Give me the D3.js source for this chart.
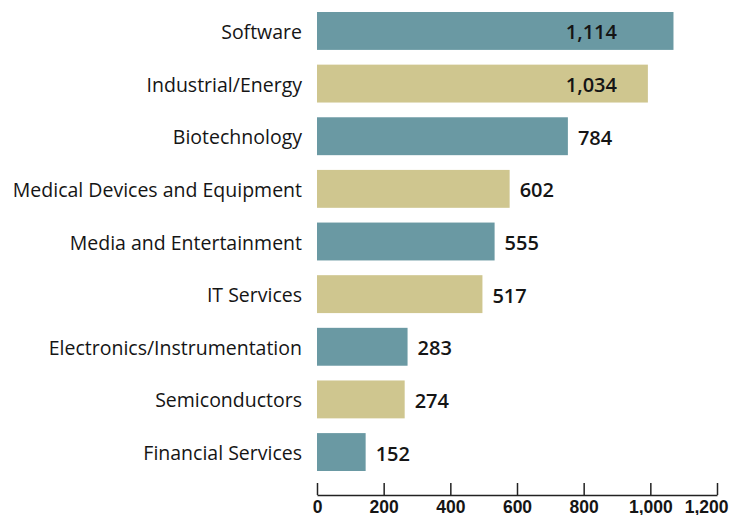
<!DOCTYPE html>
<html lang="en">
<head>
  <meta charset="UTF-8">
  <title>Deals by Industry</title>
  <script src="https://d3js.org/d3.v7.min.js"></script>
  <style>
    body {
      margin: 0;
      background: #fff;
      font-family: "Open Sans", Roboto, Arial, sans-serif;
    }
    svg {
      display: block;
    }
  </style>
</head>
<body>

<div id="chart"></div>

<script>
  // Data
  const categories = [
    "Software",
    "Industrial/Energy",
    "Biotechnology",
    "Medical Devices and Equipment",
    "Media and Entertainment",
    "IT Services",
    "Electronics/Instrumentation",
    "Semiconductors",
    "Financial Services"
  ];
  const values = [1114, 1034, 784, 602, 555, 517, 283, 274, 152];
  const tickValues = [0, 200, 400, 600, 800, 1000, 1200];

  const width = 730, height = 515;
  const colors = ["#6a99a3", "#cfc68f"];

  const svg = d3.select("#chart")
    .append("svg")
    .attr("width", width)
    .attr("height", height);

  // The axis runs 0..1,200, but the bars in the original are drawn a bit short
  const xAxisScale = d3.scaleLinear().domain([0, 1200]).range([317, 717]);
  const xBar = d3.scaleLinear().domain([0, 1250]).range([317, 717]);

  const y = d3.scaleBand()
    .domain(categories)
    .range([12, 471])
    .paddingInner(0.28)
    .paddingOuter(0);

  const data = categories.map((c, i) => ({ name: c, value: values[i], i: i }));

  // Bars
  svg.selectAll("rect.bar")
    .data(data)
    .join("rect")
    .attr("class", "bar")
    .attr("x", xBar(0))
    .attr("y", d => y(d.name))
    .attr("width", d => xBar(d.value) - xBar(0))
    .attr("height", y.bandwidth())
    .attr("fill", d => colors[d.i % 2]);

  // Category labels
  svg.selectAll("text.cat")
    .data(data)
    .join("text")
    .attr("class", "cat")
    .attr("x", 302)
    .attr("y", d => y(d.name) + y.bandwidth() / 2 + 8)
    .attr("text-anchor", "end")
    .attr("font-size", 19.5)
    .attr("font-weight", 500)
    .attr("fill", "#151515")
    .text(d => d.name);

  // Value labels: the biggest two sit inside the bar
  const fmt = d3.format(",");
  svg.selectAll("text.val")
    .data(data)
    .join("text")
    .attr("class", "val")
    .attr("x", d => d.value > 1000 ? xAxisScale(900) : xBar(d.value) + 10)
    .attr("y", d => y(d.name) + y.bandwidth() / 2 + 8.5)
    .attr("text-anchor", d => d.value > 1000 ? "end" : "start")
    .attr("font-size", 20)
    .attr("font-weight", 600)
    .attr("fill", "#151515")
    .text(d => fmt(d.value));

  // Bottom axis, ticks pointing up
  const axis = d3.axisBottom(xAxisScale)
    .tickValues(tickValues)
    .tickFormat(fmt)
    .tickSize(-12)
    .tickSizeOuter(0);

  const gx = svg.append("g")
    .attr("transform", "translate(0,495)")
    .call(axis);

  gx.select(".domain")
    .attr("stroke", "#222")
    .attr("stroke-width", 1.5);
  gx.selectAll(".tick line")
    .attr("stroke", "#222")
    .attr("stroke-width", 1.5);
  gx.selectAll(".tick text")
    .attr("y", 17.5)
    .attr("dy", null)
    .attr("font-size", 17.5)
    .attr("font-weight", 600)
    .attr("fill", "#151515");

  // last label is pulled in so it stays inside the frame
  gx.selectAll(".tick text")
    .filter(d => d === 1200)
    .attr("text-anchor", "end")
    .attr("x", 11);
</script>

</body>
</html>
